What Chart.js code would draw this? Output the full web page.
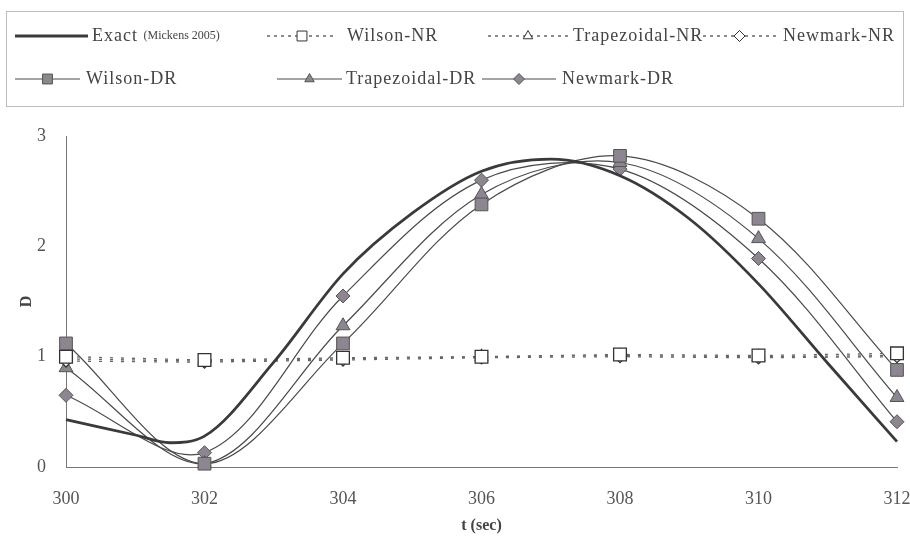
<!DOCTYPE html>
<html>
<head>
<meta charset="utf-8">
<script src="https://cdn.jsdelivr.net/npm/chart.js@4.4.0/dist/chart.umd.min.js"></script>
<style>
html, body { margin: 0; padding: 0; background: #fff; }
</style>
</head>
<body>
<canvas id="dispChart" width="910" height="539"></canvas>
<script>
// time steps of the numerical schemes (sec)
var tSteps = [300, 302, 304, 306, 308, 310, 312];
// exact solution, read at a finer step
var tExact = [300, 301, 301.5, 302, 303, 304, 305, 306, 307, 308, 309, 310, 311, 312];
var exactD = [0.43, 0.29, 0.22, 0.28, 0.95, 1.75, 2.30, 2.68, 2.79, 2.64, 2.25, 1.66, 0.94, 0.23];

var wilsonNR  = [1.00, 0.97, 0.99, 1.00, 1.02, 1.01, 1.03];
var trapNR    = [0.98, 0.96, 0.98, 1.00, 1.01, 1.00, 1.01];
var newmarkNR = [0.96, 0.95, 0.97, 0.99, 1.00, 0.99, 1.00];

var wilsonDR  = [1.12, 0.03, 1.12, 2.38, 2.82, 2.25, 0.88];
var trapDR    = [0.90, 0.03, 1.28, 2.47, 2.76, 2.07, 0.63];
var newmarkDR = [0.65, 0.13, 1.55, 2.60, 2.70, 1.89, 0.41];

var yTicks = [0, 1, 2, 3];

function pts(xs, ys) {
  return xs.map(function (x, i) { return {x: x, y: ys[i]}; });
}

var FONT = "'Liberation Serif', 'DejaVu Serif', serif";
var LINE = "#4a4a4a";
var FILL_DR = "#8d8590";

function nrSet(label, ys, style, r) {
  return {
    label: label, data: pts(tSteps, ys),
    borderColor: "#666", borderWidth: 1.3, borderDash: [3, 8],
    pointStyle: style, pointRadius: r, pointBackgroundColor: "#fff",
    pointBorderColor: "#333", pointBorderWidth: 1.3,
    tension: 0, clip: false
  };
}
function drSet(label, ys, style, r) {
  return {
    label: label, data: pts(tSteps, ys),
    borderColor: LINE, borderWidth: 1.2,
    pointStyle: style, pointRadius: r, pointBackgroundColor: FILL_DR,
    pointBorderColor: "#555", pointBorderWidth: 1,
    tension: 0.33, clip: false
  };
}

// legend slots: sample line start/end, text start, row centre
var legendSlots = [
  {x0: 15,  x1: 88,  tx: 92,  y: 36},
  {x0: 267, x1: 337, tx: 347, y: 36},
  {x0: 488, x1: 568, tx: 573, y: 36},
  {x0: 703, x1: 776, tx: 783, y: 36},
  {x0: 15,  x1: 80,  tx: 86,  y: 79},
  {x0: 277, x1: 342, tx: 346, y: 79},
  {x0: 482, x1: 556, tx: 562, y: 79}
];

function marker(ctx, style, r, x, y) {
  ctx.beginPath();
  if (style === "rect") {
    var s = r * Math.SQRT1_2;
    ctx.rect(x - s, y - s, 2 * s, 2 * s);
  } else if (style === "triangle") {
    ctx.moveTo(x, y - r);
    ctx.lineTo(x + r * 0.866, y + r / 2);
    ctx.lineTo(x - r * 0.866, y + r / 2);
    ctx.closePath();
  } else {
    ctx.moveTo(x, y - r); ctx.lineTo(x + r, y);
    ctx.lineTo(x, y + r); ctx.lineTo(x - r, y);
    ctx.closePath();
  }
  ctx.fill();
  ctx.stroke();
}

var boxLegend = {
  id: "boxLegend",
  afterDraw: function (chart) {
    var ctx = chart.ctx;
    ctx.save();
    ctx.strokeStyle = "#bdbdbd";
    ctx.lineWidth = 1;
    ctx.strokeRect(6.5, 11.5, 897, 95);
    chart.data.datasets.forEach(function (ds, i) {
      var s = legendSlots[i];
      ctx.setLineDash(ds.borderDash ? [3, 4] : []);
      ctx.strokeStyle = ds.borderColor;
      ctx.lineWidth = ds.borderWidth;
      ctx.beginPath();
      ctx.moveTo(s.x0, s.y);
      ctx.lineTo(s.x1, s.y);
      ctx.stroke();
      ctx.setLineDash([]);
      if (ds.pointRadius > 0) {
        ctx.fillStyle = ds.pointBackgroundColor;
        ctx.strokeStyle = ds.pointBorderColor;
        ctx.lineWidth = 1;
        marker(ctx, ds.pointStyle, ds.pointStyle === "rect" ? 7 : 5.5, (s.x0 + s.x1) / 2, s.y);
      }
      ctx.fillStyle = "#444";
      ctx.textBaseline = "middle";
      ctx.letterSpacing = "1px";
      var parts = ds.label.split(" (");
      ctx.font = "18px " + FONT;
      ctx.fillText(parts[0], s.tx, s.y);
      if (parts.length > 1) {
        var w = ctx.measureText(parts[0] + " ").width;
        ctx.font = "12px " + FONT;
        ctx.letterSpacing = "0px";
        ctx.fillText("(" + parts[1], s.tx + w, s.y);
      }
      ctx.letterSpacing = "0px";
    });
    ctx.restore();
  }
};

new Chart("dispChart", {
  type: "line",
  data: {
    datasets: [
      {
        label: "Exact (Mickens 2005)", data: pts(tExact, exactD),
        borderColor: "#3a3a3a", borderWidth: 2.8, pointRadius: 0,
        cubicInterpolationMode: "monotone", clip: false
      },
      nrSet("Wilson-NR", wilsonNR, "rect", 9),
      nrSet("Trapezoidal-NR", trapNR, "triangle", 7),
      nrSet("Newmark-NR", newmarkNR, "rectRot", 6),
      drSet("Wilson-DR", wilsonDR, "rect", 9),
      drSet("Trapezoidal-DR", trapDR, "triangle", 8),
      drSet("Newmark-DR", newmarkDR, "rectRot", 7)
    ]
  },
  options: {
    responsive: false,
    animation: false,
    devicePixelRatio: 1,
    layout: {padding: {top: 136, right: 13, bottom: 0, left: 0}},
    plugins: {legend: {display: false}, tooltip: {enabled: false}},
    scales: {
      x: {
        type: "linear", min: 300, max: 312,
        afterFit: function (s) { s.height = 72; s.paddingLeft = 0; s.paddingRight = 0; },
        grid: {display: false},
        border: {display: true, color: "#777", width: 1},
        ticks: {stepSize: 2, padding: 13, color: "#555", font: {family: FONT, size: 18}},
        title: {display: true, text: "t (sec)", color: "#444",
                font: {family: FONT, size: 16, weight: "bold"}, padding: {top: 0, bottom: 4}}
      },
      y: {
        min: 0, max: 3,
        afterFit: function (s) { s.width = 66; },
        afterBuildTicks: function (s) { s.ticks = yTicks.map(function (v) { return {value: v}; }); },
        grid: {display: false},
        border: {display: true, color: "#777", width: 1},
        ticks: {padding: 12, color: "#555", font: {family: FONT, size: 18}},
        title: {display: true, text: "D", color: "#444",
                font: {family: FONT, size: 16, weight: "bold"}, padding: {top: 17, bottom: 0}}
      }
    }
  },
  plugins: [boxLegend]
});
</script>
</body>
</html>
